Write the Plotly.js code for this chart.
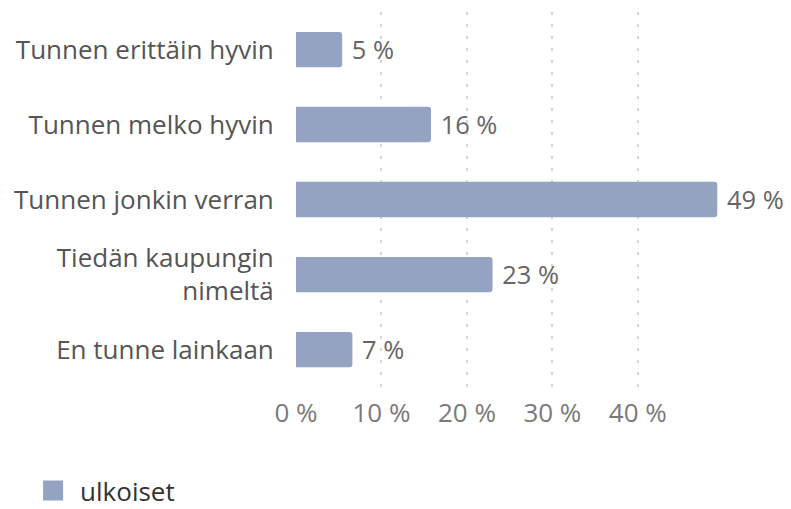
<!DOCTYPE html>
<html>
<head>
<meta charset="utf-8">
<script src="https://cdn.plot.ly/plotly-3.0.1.min.js"></script>
<style>html,body{margin:0;padding:0;background:#fff;}#chart{width:791px;height:509px;}</style>
</head>
<body>
<div id="chart"></div>
<script>
const categories = ["Tunnen erittäin hyvin", "Tunnen melko hyvin", "Tunnen jonkin verran", "Tiedän kaupungin<br>nimeltä", "En tunne lainkaan"];
const values = [5.4, 15.8, 49.3, 23.0, 6.6];
const valueLabels = ["5 %", "16 %", "49 %", "23 %", "7 %"];
const seriesName = "ulkoiset";
const tickVals = [0, 10, 20, 30, 40];
const tickText = ["0 %", "10 %", "20 %", "30 %", "40 %"];
const barColor = "#95a3c3";

const trace = {
  type: "bar",
  orientation: "h",
  name: seriesName,
  y: categories,
  x: values,
  text: valueLabels,
  width: 0.47,
  marker: { color: barColor, cornerradius: 3 },
  texttemplate: "\u00a0%{text}",
  textposition: "outside",
  cliponaxis: false,
  textfont: { family: "Open Sans", size: 26, color: "#666666" },
  hoverinfo: "none",
  showlegend: false
};

const legendTrace = {
  type: "scatter",
  mode: "markers",
  name: seriesName,
  x: [null], y: [null],
  marker: { color: barColor, symbol: "square", size: 16, line: { color: barColor, width: 4 } },
  showlegend: true,
  hoverinfo: "none"
};

const layout = {
  width: 791, height: 509,
  margin: { l: 296, r: 72, t: 12, b: 122 },
  paper_bgcolor: "#ffffff", plot_bgcolor: "#ffffff",
  font: { family: "Open Sans", size: 26, color: "#595959" },
  xaxis: {
    range: [0, 49.5],
    tickvals: tickVals, ticktext: tickText,
    showgrid: true, gridcolor: "#d6d6d6", gridwidth: 2, griddash: "3px,9px",
    zeroline: false, showline: false,
    ticks: "outside", ticklen: 3, tickcolor: "rgba(0,0,0,0)",
    tickfont: { family: "Open Sans", size: 26, color: "#7a7a7a" },
    fixedrange: true
  },
  yaxis: {
    categoryorder: "array", categoryarray: categories.slice().reverse(),
    range: [-0.5, 4.5],
    showgrid: false, zeroline: false, showline: false,
    ticks: "outside", ticklen: 16, tickcolor: "rgba(0,0,0,0)",
    tickfont: { family: "Open Sans", size: 26, color: "#555555" },
    fixedrange: true
  },
  showlegend: true,
  legend: {
    xref: "container", yref: "container",
    x: 0.033, y: 0.036, xanchor: "left", yanchor: "middle",
    orientation: "h",
    entrywidth: 250, entrywidthmode: "pixels",
    font: { family: "Open Sans", size: 26, color: "#333333" },
    itemwidth: 44
  },
  bargap: 0.5
};

Plotly.newPlot("chart", [trace, legendTrace], layout, { displayModeBar: false, staticPlot: true });
</script>
</body>
</html>
